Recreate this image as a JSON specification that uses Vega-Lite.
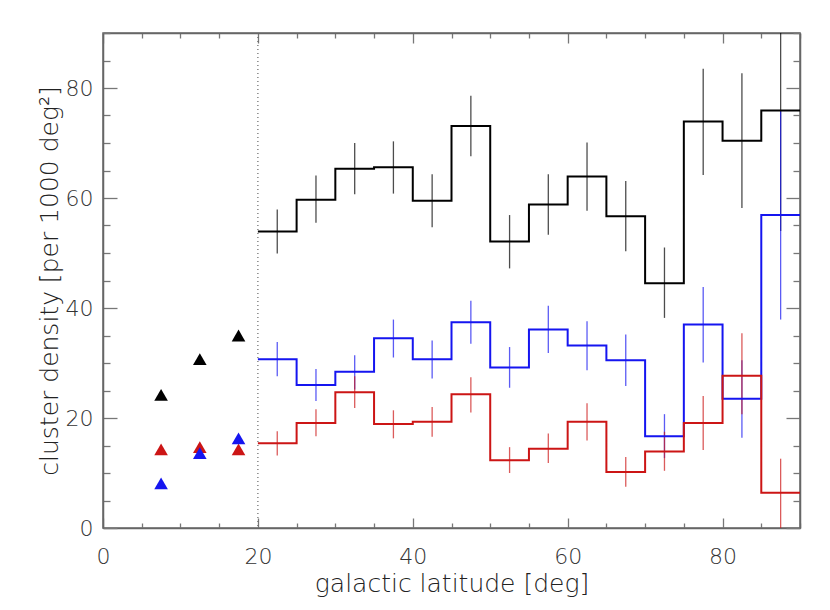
{
  "$schema": "https://vega.github.io/schema/vega-lite/v6.json",
  "width": 697,
  "height": 495,
  "autosize": {"type": "none"},
  "padding": {"left": 103, "top": 33, "right": 30, "bottom": 82},
  "background": "white",
  "config": {
    "view": {"stroke": "#666", "strokeWidth": 1.5},
    "font": "DejaVu Sans",
    "axis": {
      "labelFont": "DejaVu Sans",
      "titleFont": "DejaVu Sans",
      "labelFontSize": 22,
      "titleFontSize": 25,
      "labelFontWeight": 200,
      "titleFontWeight": 200,
      "labelColor": "#333",
      "titleColor": "#222",
      "domainColor": "#666",
      "domainWidth": 1.5,
      "tickColor": "#777",
      "tickWidth": 1.3,
      "grid": false
    }
  },
  "datasets": {
    "bins": [
      {"series": "black", "c": 22.5, "lo": 49.9, "hi": 57.9},
      {"series": "black", "c": 27.5, "lo": 55.5, "hi": 64.1},
      {"series": "black", "c": 32.5, "lo": 60.7, "hi": 70.0},
      {"series": "black", "c": 37.5, "lo": 60.8, "hi": 70.3},
      {"series": "black", "c": 42.5, "lo": 54.7, "hi": 64.3},
      {"series": "black", "c": 47.5, "lo": 67.6, "hi": 78.6},
      {"series": "black", "c": 52.5, "lo": 47.2, "hi": 56.9},
      {"series": "black", "c": 57.5, "lo": 53.3, "hi": 64.3},
      {"series": "black", "c": 62.5, "lo": 57.7, "hi": 70.1},
      {"series": "black", "c": 67.5, "lo": 50.3, "hi": 63.1},
      {"series": "black", "c": 72.5, "lo": 38.2, "hi": 51.0},
      {"series": "black", "c": 77.5, "lo": 64.2, "hi": 83.5},
      {"series": "black", "c": 82.5, "lo": 58.2, "hi": 82.7},
      {"series": "black", "c": 87.5, "lo": 54.0, "hi": 97.8},
      {"series": "blue", "c": 22.5, "lo": 27.6, "hi": 33.8},
      {"series": "blue", "c": 27.5, "lo": 23.1, "hi": 28.9},
      {"series": "blue", "c": 32.5, "lo": 25.2, "hi": 31.4},
      {"series": "blue", "c": 37.5, "lo": 31.0, "hi": 37.9},
      {"series": "blue", "c": 42.5, "lo": 27.2, "hi": 34.1},
      {"series": "blue", "c": 47.5, "lo": 33.5, "hi": 41.3},
      {"series": "blue", "c": 52.5, "lo": 25.5, "hi": 32.9},
      {"series": "blue", "c": 57.5, "lo": 31.8, "hi": 40.4},
      {"series": "blue", "c": 62.5, "lo": 28.7, "hi": 37.6},
      {"series": "blue", "c": 67.5, "lo": 25.8, "hi": 35.2},
      {"series": "blue", "c": 72.5, "lo": 12.7, "hi": 20.7},
      {"series": "blue", "c": 77.5, "lo": 30.1, "hi": 43.8},
      {"series": "blue", "c": 82.5, "lo": 16.4, "hi": 30.5},
      {"series": "blue", "c": 87.5, "lo": 37.9, "hi": 75.9},
      {"series": "red", "c": 22.5, "lo": 13.2, "hi": 17.6},
      {"series": "red", "c": 27.5, "lo": 16.7, "hi": 21.6},
      {"series": "red", "c": 32.5, "lo": 21.8, "hi": 27.6},
      {"series": "red", "c": 37.5, "lo": 16.3, "hi": 21.4},
      {"series": "red", "c": 42.5, "lo": 16.6, "hi": 22.0},
      {"series": "red", "c": 47.5, "lo": 21.0, "hi": 27.4},
      {"series": "red", "c": 52.5, "lo": 10.0, "hi": 14.7},
      {"series": "red", "c": 57.5, "lo": 11.8, "hi": 17.2},
      {"series": "red", "c": 62.5, "lo": 15.9, "hi": 22.7},
      {"series": "red", "c": 67.5, "lo": 7.5, "hi": 12.9},
      {"series": "red", "c": 72.5, "lo": 10.4, "hi": 17.5},
      {"series": "red", "c": 77.5, "lo": 14.2, "hi": 24.0},
      {"series": "red", "c": 82.5, "lo": 20.7, "hi": 35.4},
      {"series": "red", "c": 87.5, "lo": -0.5, "hi": 12.6}
    ],
    "steps": [
      {"series": "black", "x": 20, "v": 53.9}, {"series": "black", "x": 25, "v": 59.7},
      {"series": "black", "x": 30, "v": 65.3}, {"series": "black", "x": 35, "v": 65.6},
      {"series": "black", "x": 40, "v": 59.5}, {"series": "black", "x": 45, "v": 73.1},
      {"series": "black", "x": 50, "v": 52.1}, {"series": "black", "x": 55, "v": 58.8},
      {"series": "black", "x": 60, "v": 63.9}, {"series": "black", "x": 65, "v": 56.7},
      {"series": "black", "x": 70, "v": 44.5}, {"series": "black", "x": 75, "v": 73.9},
      {"series": "black", "x": 80, "v": 70.4}, {"series": "black", "x": 85, "v": 75.9},
      {"series": "black", "x": 90, "v": 75.9},
      {"series": "blue", "x": 20, "v": 30.7}, {"series": "blue", "x": 25, "v": 26.0},
      {"series": "blue", "x": 30, "v": 28.4}, {"series": "blue", "x": 35, "v": 34.5},
      {"series": "blue", "x": 40, "v": 30.7}, {"series": "blue", "x": 45, "v": 37.4},
      {"series": "blue", "x": 50, "v": 29.2}, {"series": "blue", "x": 55, "v": 36.1},
      {"series": "blue", "x": 60, "v": 33.2}, {"series": "blue", "x": 65, "v": 30.5},
      {"series": "blue", "x": 70, "v": 16.7}, {"series": "blue", "x": 75, "v": 37.0},
      {"series": "blue", "x": 80, "v": 23.5}, {"series": "blue", "x": 85, "v": 56.9},
      {"series": "blue", "x": 90, "v": 56.9},
      {"series": "red", "x": 20, "v": 15.4}, {"series": "red", "x": 25, "v": 19.1},
      {"series": "red", "x": 30, "v": 24.7}, {"series": "red", "x": 35, "v": 18.9},
      {"series": "red", "x": 40, "v": 19.3}, {"series": "red", "x": 45, "v": 24.3},
      {"series": "red", "x": 50, "v": 12.3}, {"series": "red", "x": 55, "v": 14.4},
      {"series": "red", "x": 60, "v": 19.3}, {"series": "red", "x": 65, "v": 10.2},
      {"series": "red", "x": 70, "v": 13.9}, {"series": "red", "x": 75, "v": 19.1},
      {"series": "red", "x": 80, "v": 27.7}, {"series": "red", "x": 85, "v": 6.4},
      {"series": "red", "x": 90, "v": 6.4}
    ],
    "tri": [
      {"series": "black", "x": 7.5, "v": 24.2},
      {"series": "black", "x": 12.5, "v": 30.7},
      {"series": "black", "x": 17.5, "v": 35.0},
      {"series": "red", "x": 7.5, "v": 14.3},
      {"series": "red", "x": 12.5, "v": 14.7},
      {"series": "red", "x": 17.5, "v": 14.3},
      {"series": "blue", "x": 7.5, "v": 8.1},
      {"series": "blue", "x": 12.5, "v": 13.6},
      {"series": "blue", "x": 17.5, "v": 16.3}
    ],
    "divider": [{"x": 20}]
  },
  "resolve": {"axis": {"x": "independent", "y": "independent"}},
  "layer": [
    {
      "data": {"name": "divider"},
      "mark": {"type": "rule", "color": "#666", "strokeWidth": 1.2, "strokeDash": [1, 3]},
      "encoding": {
        "x": {
          "field": "x", "type": "quantitative",
          "scale": {"domain": [0, 90], "nice": false, "zero": false},
          "axis": {
            "orient": "bottom",
            "values": [0, 5, 10, 15, 20, 25, 30, 35, 40, 45, 50, 55, 60, 65, 70, 75, 80, 85, 90],
            "labelExpr": "datum.value % 20 === 0 ? datum.label : ''",
            "tickSize": {"condition": {"test": "datum.value % 20 === 0", "value": -10}, "value": -5},
            "labelPadding": 28,
            "labelFlush": false,
            "title": "galactic latitude [deg]",
            "titlePadding": 4
          }
        }
      }
    },
    {
      "data": {"name": "bins"},
      "mark": {"type": "rule", "strokeWidth": 1.3, "opacity": 0.7, "clip": true},
      "encoding": {
        "x": {
          "field": "c", "type": "quantitative",
          "scale": {"domain": [0, 90], "nice": false, "zero": false},
          "axis": {
            "orient": "top",
            "values": [0, 5, 10, 15, 20, 25, 30, 35, 40, 45, 50, 55, 60, 65, 70, 75, 80, 85, 90],
            "labels": false,
            "tickSize": {"condition": {"test": "datum.value % 20 === 0", "value": -10}, "value": -5},
            "title": null
          }
        },
        "y": {
          "field": "lo", "type": "quantitative",
          "scale": {"domain": [0, 90], "nice": false, "zero": false},
          "axis": {
            "orient": "right",
            "values": [0, 5, 10, 15, 20, 25, 30, 35, 40, 45, 50, 55, 60, 65, 70, 75, 80, 85, 90],
            "labels": false,
            "tickSize": {"condition": {"test": "datum.value % 20 === 0", "value": -14}, "value": -7},
            "title": null
          }
        },
        "y2": {"field": "hi"},
        "color": {
          "field": "series", "type": "nominal",
          "scale": {"domain": ["black", "blue", "red"], "range": ["#000000", "#1515f0", "#cc1515"]},
          "legend": null
        }
      }
    },
    {
      "data": {"name": "steps"},
      "mark": {"type": "line", "interpolate": "step-after", "strokeWidth": 2, "clip": true},
      "encoding": {
        "x": {"field": "x", "type": "quantitative", "axis": null},
        "y": {"field": "v", "type": "quantitative", "axis": null},
        "color": {"field": "series", "type": "nominal", "legend": null}
      }
    },
    {
      "data": {"name": "tri"},
      "mark": {"type": "point", "shape": "triangle-up", "filled": true, "size": 185, "opacity": 1},
      "encoding": {
        "x": {"field": "x", "type": "quantitative", "axis": null},
        "y": {
          "field": "v", "type": "quantitative",
          "axis": {
            "orient": "left",
            "values": [0, 5, 10, 15, 20, 25, 30, 35, 40, 45, 50, 55, 60, 65, 70, 75, 80, 85, 90],
            "labelExpr": "datum.value % 20 === 0 ? datum.label : ''",
            "tickSize": {"condition": {"test": "datum.value % 20 === 0", "value": -14}, "value": -7},
            "labelPadding": 24,
            "labelFlush": false,
            "title": "cluster density [per 1000 deg²]",
            "titlePadding": 3
          }
        },
        "color": {"field": "series", "type": "nominal", "legend": null}
      }
    }
  ]
}
